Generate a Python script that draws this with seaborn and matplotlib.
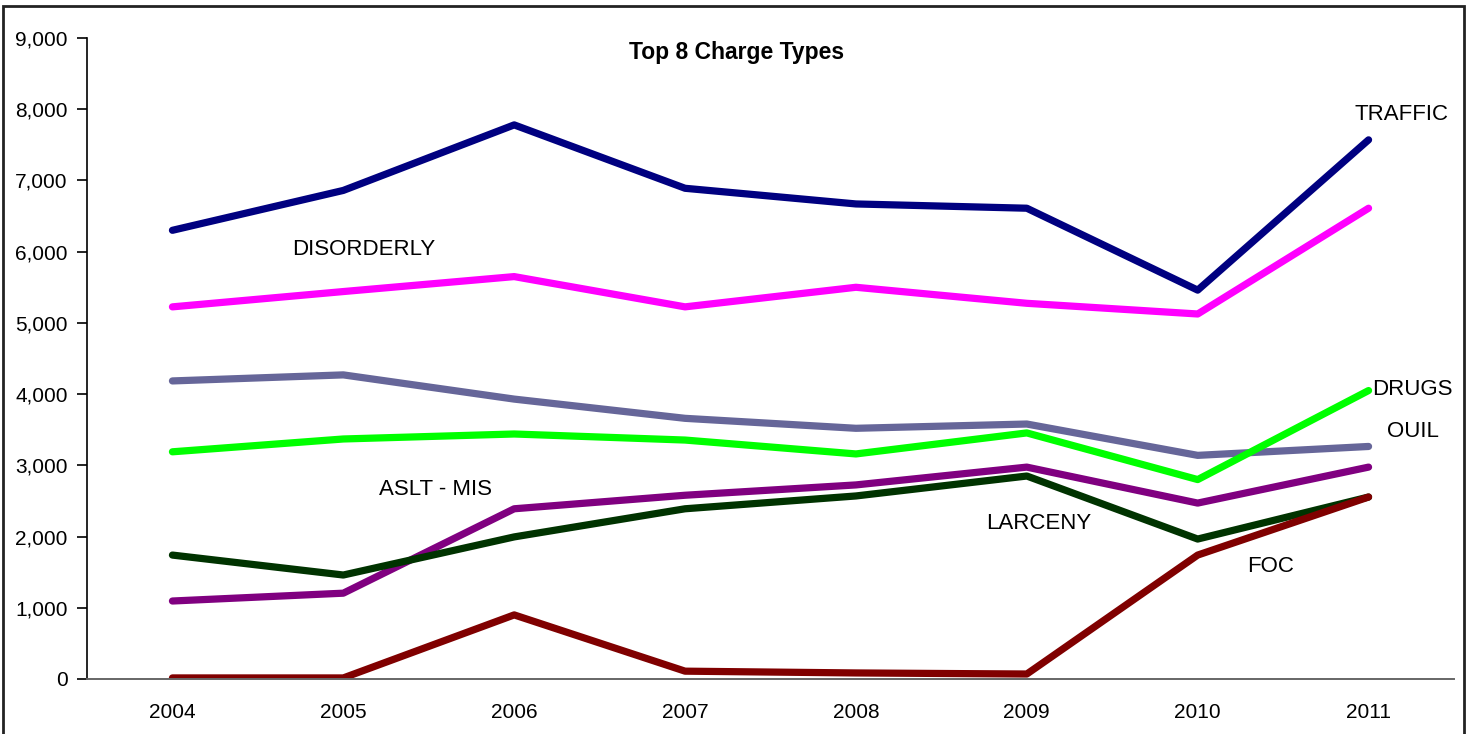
import matplotlib
matplotlib.use("Agg")
from matplotlib import pyplot as plt
from matplotlib.ticker import FuncFormatter, FixedLocator
import pandas as pd
import seaborn as sns

years = [2004, 2005, 2006, 2007, 2008, 2009, 2010, 2011]
traffic = [6300, 6860, 7780, 6890, 6670, 6610, 5460, 7570]
disorderly = [5225, 5440, 5650, 5225, 5500, 5275, 5125, 6610]
ouil = [4185, 4270, 3930, 3660, 3520, 3580, 3140, 3265]
drugs = [3190, 3370, 3440, 3355, 3160, 3455, 2800, 4050]
aslt_mis = [1095, 1205, 2390, 2580, 2725, 2975, 2470, 2975]
larceny = [1740, 1460, 1995, 2390, 2570, 2850, 1965, 2555]
foc = [15, 15, 900, 110, 85, 70, 1740, 2555]

charges = ["TRAFFIC", "DISORDERLY", "OUIL", "DRUGS", "ASLT - MIS", "LARCENY", "FOC"]
series = [traffic, disorderly, ouil, drugs, aslt_mis, larceny, foc]
colors = ["#000080", "#FF00FF", "#666699", "#00FF00", "#800080", "#003300", "#800000"]

rows = []
for name, vals in zip(charges, series):
    for yr, v in zip(years, vals):
        rows.append({"Year": yr, "Count": v, "Charge": name})
df = pd.DataFrame(rows)

sns.set_style("white")
plt.rcParams['font.family'] = ['Liberation Sans', 'DejaVu Sans']
plt.rcParams['text.color'] = 'black'
plt.rcParams['xtick.color'] = 'black'
plt.rcParams['ytick.color'] = 'black'

fig = plt.figure(figsize=(14.73, 7.34), dpi=100)
ax = fig.add_axes([87 / 1473, 55 / 734, (1454 - 87) / 1473, (679 - 38) / 734])

sns.lineplot(data=df, x="Year", y="Count", hue="Charge", hue_order=charges,
             palette=dict(zip(charges, colors)), linewidth=5.2, legend=False,
             ax=ax, solid_capstyle="round", solid_joinstyle="round")

ax.set_xlim(2003.5, 2011.5)
ax.set_ylim(0, 9000)
ax.set_yticks(range(0, 9001, 1000))
ax.yaxis.set_major_formatter(FuncFormatter(lambda v, p: f"{int(v):,}"))
ax.set_xticks(years)
ax.set_xticklabels([str(y) for y in years])
ax.xaxis.set_minor_locator(FixedLocator([y - 0.5 for y in years] + [2011.5]))
ax.tick_params(axis="x", which="major", length=0, pad=17, labelsize=15)
ax.tick_params(axis="x", which="minor", length=7, width=1.2, color="#555555")
ax.tick_params(axis="y", length=7, width=1.2, pad=7, labelsize=15, left=True)
ax.set_xlabel("")
ax.set_ylabel("")

for s in ["top", "right"]:
    ax.spines[s].set_visible(False)
ax.spines["left"].set_color("black")
ax.spines["left"].set_linewidth(1.2)
ax.spines["bottom"].set_color("#666666")
ax.spines["bottom"].set_linewidth(1.4)

ax.text(2007.3, 8790, "Top 8 Charge Types", ha="center", va="center",
        fontsize=16.5, fontweight="bold")
labels = [("TRAFFIC", 2010.92, 7920), ("DISORDERLY", 2004.70, 6025),
          ("DRUGS", 2011.02, 4070), ("OUIL", 2011.11, 3470),
          ("ASLT - MIS", 2005.21, 2655), ("LARCENY", 2008.76, 2190),
          ("FOC", 2010.29, 1575)]
for txt, x, y in labels:
    ax.text(x, y, txt, ha="left", va="center", fontsize=16)

fig.add_artist(plt.Rectangle((3 / 1473, -0.05), (1464 - 3) / 1473, (734 - 6) / 734 + 0.05,
                             transform=fig.transFigure, fill=False, lw=2, ec="#222222"))

fig.savefig("out.png", dpi=100)
